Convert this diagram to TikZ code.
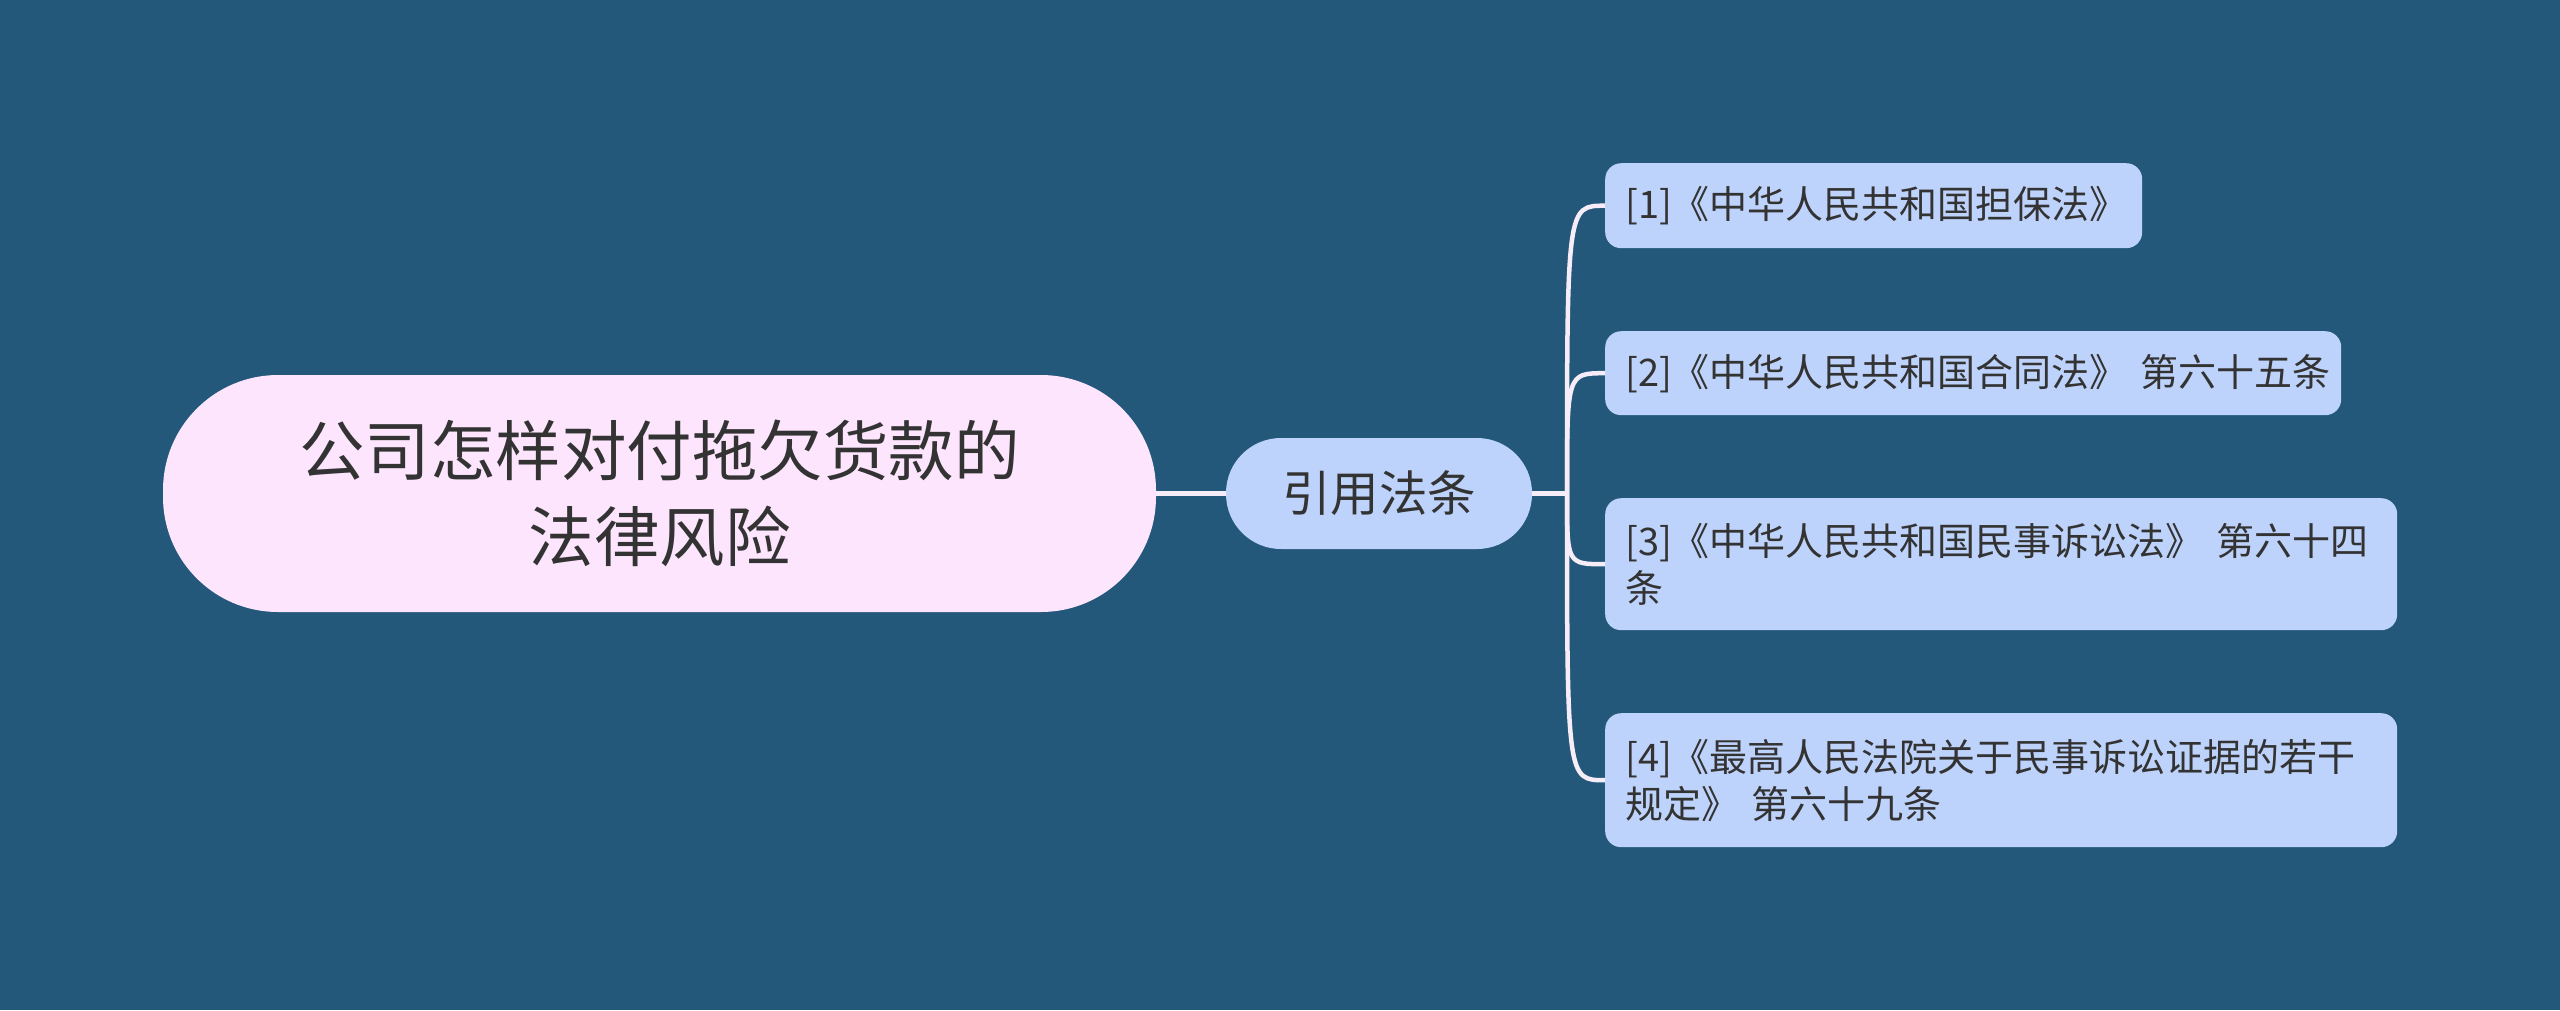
\documentclass[tikz,border=0pt]{standalone}
\usepackage{fontspec}
\setmainfont{Noto Sans CJK SC}
\definecolor{bgc}{HTML}{23587A}
\definecolor{rootc}{HTML}{FDE5FD}
\definecolor{bluec}{HTML}{BED3FB}
\definecolor{txtc}{HTML}{333333}
\definecolor{linkc}{HTML}{F7EDF8}
\tikzset{
  rootbox/.style={rectangle, rounded corners=115pt, fill=rootc, text=txtc,
    minimum width=993pt, minimum height=237pt, inner sep=0pt, align=center,
    font=\fontsize{65.5}{86}\selectfont},
  midbox/.style={rectangle, rounded corners=55pt, fill=bluec, text=txtc,
    minimum width=306pt, minimum height=111pt, inner sep=0pt,
    font=\fontsize{48.5}{58}\selectfont},
  leafbox/.style={rectangle, rounded corners=16pt, fill=bluec, text=txtc, anchor=north west,
    inner xsep=20pt, inner ysep=0pt, align=left,
    font=\fontsize{38}{47}\selectfont},
  link/.style={draw=linkc, line width=4.5pt}
}
\begin{document}
\begin{tikzpicture}[x=1pt,y=-1pt]
\fill[bgc] (0,0) rectangle (2560,1010);
\useasboundingbox (0,0) rectangle (2560,1010);
\node[rootbox] (root) at (659.5,493.5) {公司怎样对付拖欠货款的\\法律风险};
\node[midbox] (mid) at (1379,493.5) {引用法条};
\node[leafbox, minimum width=537pt, minimum height=85pt, text width=497pt] (l1) at (1605,163) {[1]《中华人民共和国担保法》};
\node[leafbox, minimum width=736pt, minimum height=84pt, text width=696pt] (l2) at (1605,331) {[2]《中华人民共和国合同法》~第六十五条};
\node[leafbox, minimum width=792pt, minimum height=132pt, text width=752pt] (l3) at (1605,498) {[3]《中华人民共和国民事诉讼法》~第六十四\\条};
\node[leafbox, minimum width=792pt, minimum height=134pt, text width=752pt] (l4) at (1605,713) {[4]《最高人民法院关于民事诉讼证据的若干\\规定》~第六十九条};
\coordinate (fork) at (1567,493.5);
\draw[link] (root.east) -- (mid.west);
\draw[link] (mid.east) -- (fork);
\foreach \l in {l1,l2,l3,l4}{
  \draw[link] (fork) .. controls (fork |- \l.west) and (fork |- \l.west) .. (\l.west);
}
\end{tikzpicture}
\end{document}
